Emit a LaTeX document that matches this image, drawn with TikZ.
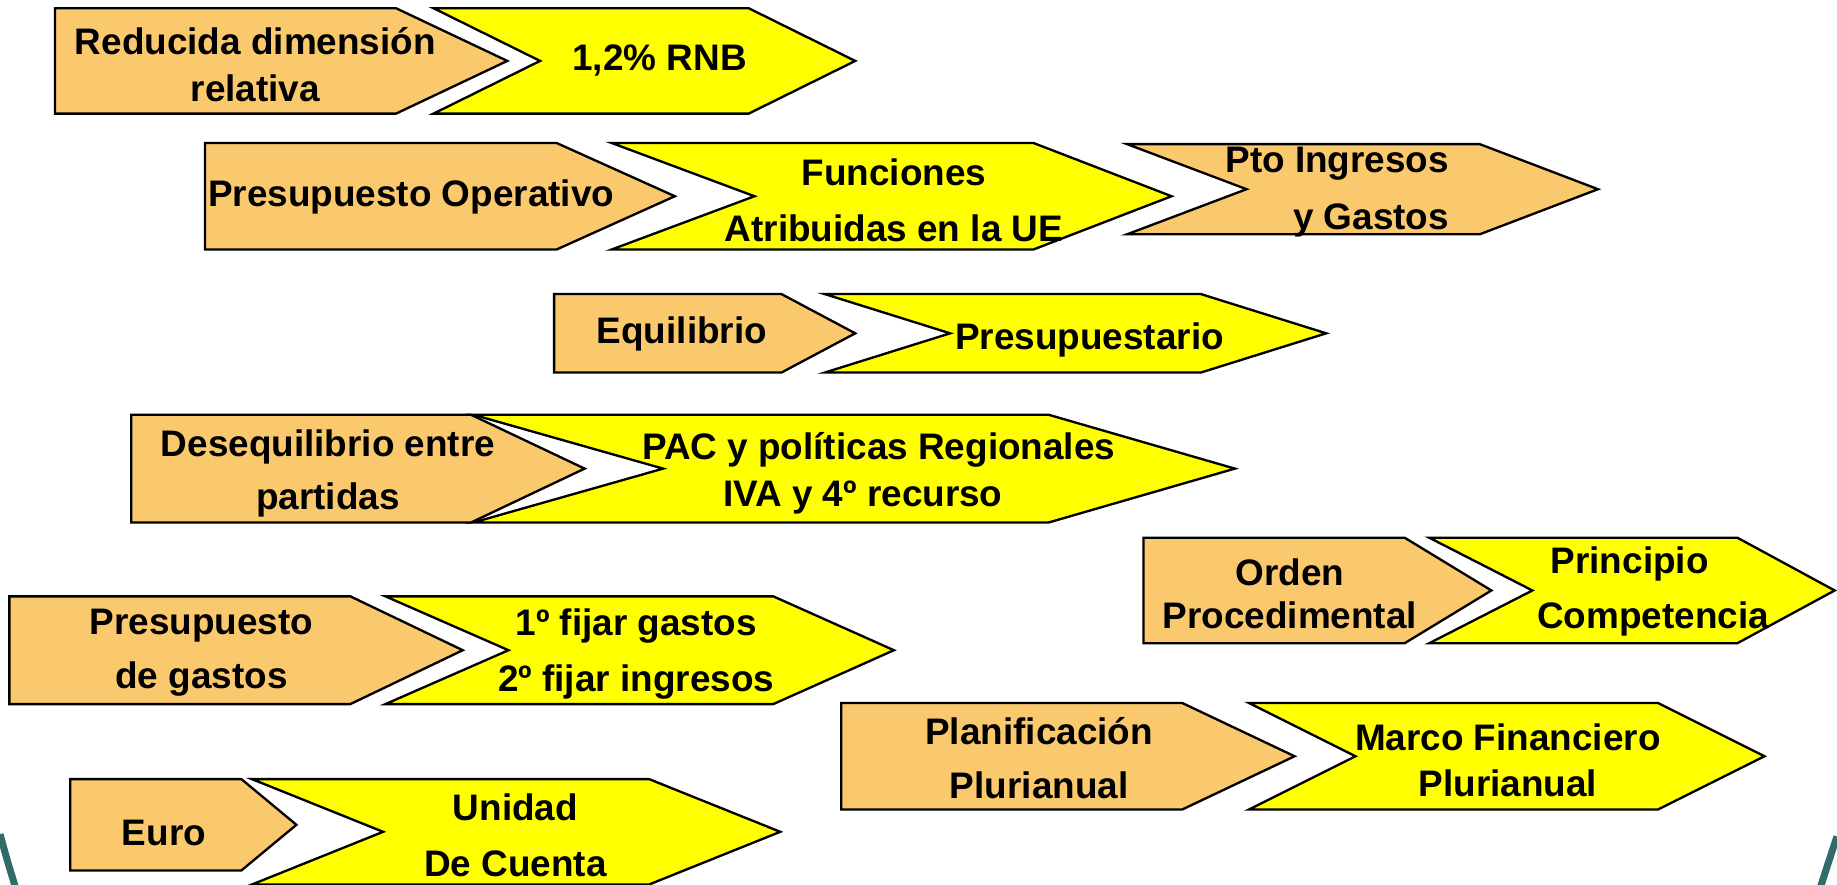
\documentclass[tikz,border=0pt]{standalone}
\usepackage{fontspec}
\setmainfont{Liberation Sans}
\definecolor{naranja}{HTML}{FAC96E}
\definecolor{amarillo}{HTML}{FFFF00}
\definecolor{verdeazul}{HTML}{336B6B}
\begin{document}
\begin{tikzpicture}[x=1pt,y=-1pt]
% Estilos (MODIFIABLES)
\tikzstyle{bloque}=[fill=naranja,draw=black,line width=2pt]
\tikzstyle{flecha}=[fill=amarillo,draw=black,line width=2pt]
\tikzstyle{texto}=[align=center,inner sep=0pt,font=\fontsize{31.5}{40}\selectfont\bfseries]
\tikzstyle{borde}=[draw=verdeazul,line width=6pt]
% Forma (NO MODIFIABLE) : estilo, izquierda, muesca, hombro, punta, arriba, abajo
\def\Flecha#1#2#3#4#5#6#7{\draw[#1] (#2,#6) -- (#4,#6) -- (#5,{(#6+#7)/2}) -- (#4,#7) -- (#2,#7) -- (#3,{(#6+#7)/2}) -- cycle;}
\useasboundingbox (0,0) rectangle (1568,755);
% Borde de la pagina
\draw[borde] (0,712) .. controls (6,734) .. (14,760);
\draw[borde] (1568,714) .. controls (1561,735) .. (1553,760);
% Formas (MODIFIABLES : coordenadas)
\Flecha{bloque}{47}{47}{338}{433}{7}{97}
\Flecha{flecha}{370}{461}{639}{730}{7}{97}
\Flecha{bloque}{175}{175}{475}{576}{122}{213}
\Flecha{flecha}{522}{644}{882}{1000}{122}{213}
\Flecha{bloque}{962}{1064}{1263}{1364}{123}{200}
\Flecha{bloque}{473}{473}{667}{730}{251}{318}
\Flecha{flecha}{704}{811}{1025}{1132}{251}{318}
\Flecha{bloque}{112}{112}{402}{499}{354}{446}
\Flecha{flecha}{404}{566}{895}{1054}{354}{446}
\Flecha{bloque}{976}{976}{1199}{1273}{459}{549}
\Flecha{flecha}{1220}{1308}{1483}{1566}{459}{549}
\Flecha{bloque}{8}{8}{299}{395}{509}{601}
\Flecha{flecha}{329}{434}{660}{763}{509}{601}
\Flecha{bloque}{718}{718}{1009}{1105}{600}{691}
\Flecha{flecha}{1066}{1157}{1415}{1506}{600}{691}
\Flecha{bloque}{60}{60}{206}{253}{665}{743}
\Flecha{flecha}{215}{327}{554}{666}{665}{755}
% Textos (MODIFIABLES)
\node[texto] (Dim) at (218,55) {Reducida dimensión\\relativa};
\node[texto] (Rnb) at (563,52) {1,2\% RNB};
\node[texto] (PtoOp) at (351,168) {Presupuesto Operativo};
\node[texto] (Func) at (763,171) {Funciones\\[8pt]Atribuidas en la UE};
\node[texto,anchor=east,align=right] (PtoIG) at (1237,164) {Pto Ingresos\\[8pt]y Gastos};
\node[texto] (Equi) at (582,285) {Equilibrio};
\node[texto] (Presu) at (930,290) {Presupuestario};
\node[texto] (Deseq) at (280,404) {Desequilibrio entre\\[5pt]partidas};
\node[texto] (Pac) at (750,404) {PAC y políticas Regionales\\IVA y 4º recurso\hspace*{27pt}};
\node[texto] (Orden) at (1101,507) {Orden\\[-3pt]Procedimental};
\node[texto] (Princ) at (1401,505) {Principio\hspace*{20pt}\\[7pt]\hspace*{20pt}Competencia};
\node[texto] (PtoG) at (172,557) {Presupuesto\\[6pt]de gastos};
\node[texto] (Fijar) at (543,558) {1º fijar gastos\\[8pt]2º fijar ingresos};
\node[texto] (Plan) at (887,647) {Planificación\\[6pt]Plurianual};
\node[texto] (Marco) at (1287,649) {Marco Financiero\\Plurianual};
\node[texto] (Euro) at (140,711) {Euro};
\node[texto] (Unidad) at (440,713) {Unidad\\[7pt]De Cuenta};
\end{tikzpicture}
\end{document}
